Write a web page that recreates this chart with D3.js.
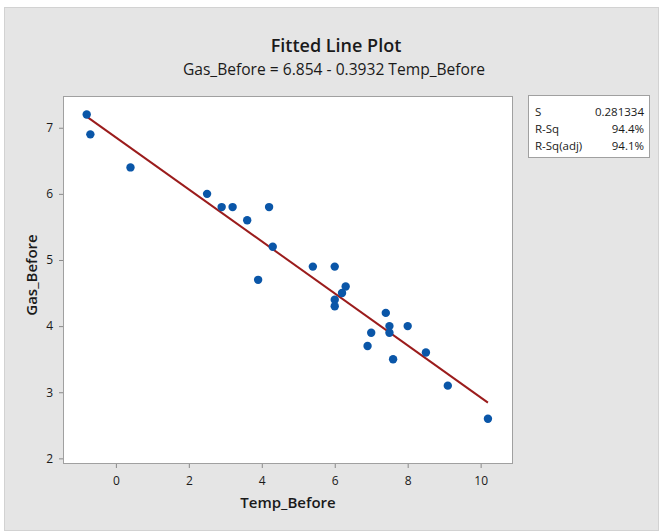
<!DOCTYPE html>
<html>
<head>
<meta charset="utf-8">
<script src="https://cdn.jsdelivr.net/npm/d3@7"></script>
<style>
  body { margin: 0; background: #ffffff; }
  svg text { font-family: "Open Sans", "Noto Sans", sans-serif; fill: #1a1a1a; }
</style>
</head>
<body>
<svg id="fitted_line_plot"></svg>
<script>
// whiteside "before" data
var tempBefore = [-0.8, -0.7, 0.4, 2.5, 2.9, 3.2, 3.6, 3.9, 4.2, 4.3, 5.4, 6.0, 6.0, 6.0, 6.2, 6.3, 6.9, 7.0, 7.4, 7.5, 7.5, 7.6, 8.0, 8.5, 9.1, 10.2];
var gasBefore = [7.2, 6.9, 6.4, 6.0, 5.8, 5.8, 5.6, 4.7, 5.8, 5.2, 4.9, 4.9, 4.3, 4.4, 4.5, 4.6, 3.7, 3.9, 4.2, 4.0, 3.9, 3.5, 4.0, 3.6, 3.1, 2.6];
var intercept = 6.854;
var slope = -0.3932;
var xTicks = [0, 2, 4, 6, 8, 10];
var yTicks = [2, 3, 4, 5, 6, 7];
var statLabels = ["S", "R-Sq", "R-Sq(adj)"];
var statValues = ["0.281334", "94.4%", "94.1%"];

var width = 659, height = 531;
var plot = { left: 63, top: 96, right: 512, bottom: 463 };

var svg = d3.select("svg#fitted_line_plot").attr("width", width).attr("height", height);

// gray panel
svg.append("rect").attr("x", 4.5).attr("y", 7.5).attr("width", width - 5).attr("height", height - 8)
    .attr("fill", "#e5e5e5").attr("stroke", "#d2d2d2");

var x = d3.scaleLinear().domain([-1.45, 10.86]).range([plot.left, plot.right]);
var y = d3.scaleLinear().domain([1.93, 7.48]).range([plot.bottom, plot.top]);

svg.append("rect").attr("x", plot.left + 0.5).attr("y", plot.top + 0.5)
    .attr("width", plot.right - plot.left).attr("height", plot.bottom - plot.top)
    .attr("fill", "#ffffff").attr("stroke", "#a0a0a0");

var xAxis = svg.append("g").attr("transform", "translate(0," + (plot.bottom + 1) + ")")
    .call(d3.axisBottom(x).tickValues(xTicks).tickFormat(d3.format("d")).tickSize(4).tickPadding(8));
var yAxis = svg.append("g").attr("transform", "translate(" + plot.left + ",0)")
    .call(d3.axisLeft(y).tickValues(yTicks).tickFormat(d3.format("d")).tickSize(4).tickPadding(6));
[xAxis, yAxis].forEach(function (ax) {
    ax.select(".domain").remove();
    ax.selectAll(".tick line").attr("stroke", "#8a8a8a");
    ax.selectAll(".tick text").attr("font-size", 12).attr("fill", "#1a1a1a")
        .attr("font-family", "\"Open Sans\", sans-serif");
});

// fitted line
var lineX = d3.extent(tempBefore);
svg.append("line")
    .attr("x1", x(lineX[0])).attr("y1", y(intercept + slope * lineX[0]))
    .attr("x2", x(lineX[1])).attr("y2", y(intercept + slope * lineX[1]))
    .attr("stroke", "#9b1c1c").attr("stroke-width", 2);

svg.selectAll("circle.pt").data(tempBefore).enter().append("circle")
    .attr("class", "pt")
    .attr("cx", function (d) { return x(d); })
    .attr("cy", function (d, i) { return y(gasBefore[i]); })
    .attr("r", 4.2)
    .attr("fill", "#0a56a8");

// titles
svg.append("text").attr("x", 336).attr("y", 52).attr("text-anchor", "middle")
    .attr("font-size", 18).attr("font-weight", 600).text("Fitted Line Plot");
svg.append("text").attr("x", 334).attr("y", 75).attr("text-anchor", "middle")
    .attr("font-size", 15.6).text("Gas_Before = " + intercept + " - " + (-slope) + " Temp_Before");

svg.append("text").attr("x", 288).attr("y", 508).attr("text-anchor", "middle")
    .attr("font-size", 15).attr("font-weight", 600).text("Temp_Before");
svg.append("text").attr("transform", "translate(37,275) rotate(-90)").attr("text-anchor", "middle")
    .attr("font-size", 15).attr("font-weight", 600).text("Gas_Before");

// stats box
var box = svg.append("g");
box.append("rect").attr("x", 528.5).attr("y", 95.5).attr("width", 121).attr("height", 62)
    .attr("fill", "#ffffff").attr("stroke", "#a0a0a0");
var rowY = d3.scalePoint().domain(statLabels).range([116, 150]);
box.selectAll("text.lab").data(statLabels).enter().append("text")
    .attr("class", "lab")
    .attr("x", 535).attr("y", function (d) { return rowY(d); })
    .attr("font-size", 11.5).text(function (d) { return d; });
box.selectAll("text.val").data(statValues).enter().append("text")
    .attr("class", "val")
    .attr("x", 644).attr("y", function (d, i) { return rowY(statLabels[i]); })
    .attr("text-anchor", "end").attr("font-size", 11.5).text(function (d) { return d; });
</script>
</body>
</html>
